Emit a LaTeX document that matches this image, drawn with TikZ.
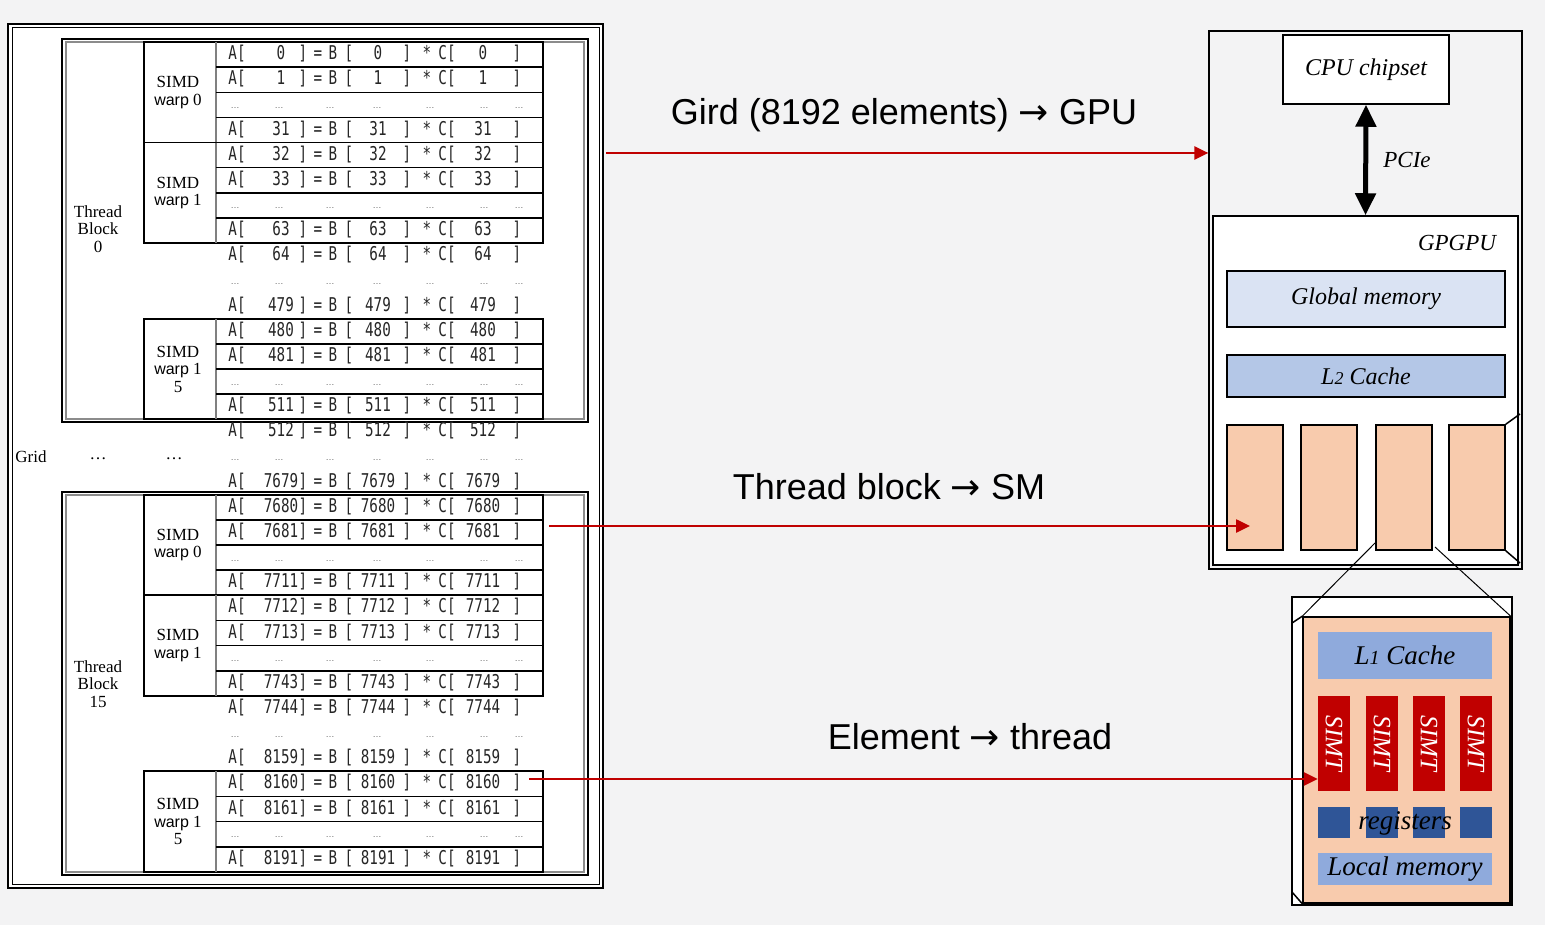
\documentclass[tikz,border=0pt]{standalone}
\usepackage{fontspec}
\usetikzlibrary{arrows.meta}
\newfontfamily\sansf{Liberation Sans}
\newfontfamily\timesf{Liberation Serif}
\newfontfamily\djv{DejaVu Sans}
\newfontfamily\monof[FakeStretch=0.75]{DejaVu Sans Mono}
\definecolor{bg}{HTML}{F3F3F4}
\definecolor{darkred}{HTML}{C00000}
\definecolor{gmem}{HTML}{DAE3F3}
\definecolor{ltwo}{HTML}{B4C7E7}
\definecolor{lone}{HTML}{8FAADC}
\definecolor{peach}{HTML}{F8CBAD}
\definecolor{regblue}{HTML}{2F5597}
\newcommand\rarr{{\djv →}}
\begin{document}
\begin{tikzpicture}[x=1pt,y=-1pt,
  rowtxt/.style={inner sep=0pt, text height=14pt, text depth=4pt, font=\monof\fontsize{19}{19}\selectfont, text=black!85},
  dotstxt/.style={inner sep=0pt, font=\sansf\fontsize{9}{9}\selectfont, text=black!60},
  lbl/.style={inner sep=0pt, align=center, font=\timesf\fontsize{17}{17.5}\selectfont},
  big/.style={inner sep=0pt, font=\sansf\fontsize{36}{40}\selectfont},
  itl/.style={inner sep=0pt, font=\timesf\fontsize{24}{28}\selectfont\itshape},
  boxed/.style={draw=black, line width=1.5pt, inner sep=0pt},
  redarrow/.style={draw=darkred, line width=2.5pt, -{Triangle[length=14pt,width=13pt]}},
  pcie/.style={draw=black, line width=5pt, {Triangle[length=22pt,width=20pt]}-{Triangle[length=22pt,width=20pt]}}
]
\useasboundingbox (0,0) rectangle (1545,925);
\fill[bg] (0,0) rectangle (1545,925);

% ---------------- left: grid table ----------------
\fill[white] (8,24) rectangle (603,888);
\draw[line width=2pt] (8,24) rectangle (603,888);
\draw[line width=1pt] (12,28) rectangle (599,884);

% thread block boxes
\draw[line width=1.5pt] (62,39) rectangle (588,422);
\draw[black!45, line width=1.5pt] (66,42) rectangle (584,419);
\draw[line width=1.5pt] (62,492) rectangle (588,875);
\draw[black!45, line width=1.5pt] (66,495) rectangle (584,872);

% warp boxes
\foreach \s/\e in {0/3,4/7,11/14,18/21,22/25,29/32}{
  \pgfmathsetmacro\wt{42+25.15*\s}
  \pgfmathsetmacro\wb{42+25.15*(\e+1)}
  \draw[line width=1.8pt] (144,\wt) rectangle (543,\wb);
  \draw[black!50, line width=1.2pt] (216,\wt) -- (216,\wb);
  \foreach \k in {1,2,3}{
    \pgfmathsetmacro\yy{\wt+25.15*\k}
    \draw[line width=1.5pt] (216,\yy) -- (543,\yy);
  }
}

% rows with numbers
\foreach \i/\n in {0/0,1/1,3/31,4/32,5/33,7/63,8/64,10/479,11/480,12/481,14/511,15/512,17/7679,18/7680,19/7681,21/7711,22/7712,23/7713,25/7743,26/7744,28/8159,29/8160,30/8161,32/8191}{
  \pgfmathsetmacro\ry{54.6+25.15*\i}
  \node[rowtxt] (ra\i) at (237,\ry) {A[};
  \node[rowtxt] (rn\i) at (281,\ry) {\n};
  \node[rowtxt] (rb\i) at (303,\ry) {]};
  \node[rowtxt] (rc\i) at (318,\ry) {=};
  \node[rowtxt] (rd\i) at (333,\ry) {B};
  \node[rowtxt] (re\i) at (349,\ry) {[};
  \node[rowtxt] (rf\i) at (378,\ry) {\n};
  \node[rowtxt] (rg\i) at (407,\ry) {]};
  \node[rowtxt] (rh\i) at (427,\ry) {*};
  \node[rowtxt] (rk\i) at (447,\ry) {C[};
  \node[rowtxt] (rm\i) at (483,\ry) {\n};
  \node[rowtxt] (rp\i) at (517,\ry) {]};
}
% rows with dots
\foreach \i in {2,6,9,13,16,20,24,27,31}{
  \pgfmathsetmacro\ry{57.6+25.15*\i}
  \foreach \xx [count=\c] in {235,279,330,377,430,484,519}{
    \node[dotstxt] (dt\i-\c) at (\xx,\ry) {…};
  }
}

% labels
\node[lbl] (tb0) at (98,229) {Thread\\Block\\0};
\node[lbl] (tb15) at (98,684) {Thread\\Block\\15};
\node[lbl] (wa) at (178,92.3) {SIMD\\{\sansf\fontsize{16}{17.5}\selectfont warp} 0};
\node[lbl] (wb) at (178,192.9) {SIMD\\{\sansf\fontsize{16}{17.5}\selectfont warp} 1};
\node[lbl] (wc) at (178,369) {SIMD\\{\sansf\fontsize{16}{17.5}\selectfont warp} 1\\5};
\node[lbl] (wd) at (178,545) {SIMD\\{\sansf\fontsize{16}{17.5}\selectfont warp} 0};
\node[lbl] (we) at (178,645.6) {SIMD\\{\sansf\fontsize{16}{17.5}\selectfont warp} 1};
\node[lbl] (wf) at (178,821.6) {SIMD\\{\sansf\fontsize{16}{17.5}\selectfont warp} 1\\5};
\node[lbl] (grid) at (31,457) {Grid};
\node[lbl] (gd1) at (98,459) {…};
\node[lbl] (gd2) at (174,459) {…};

% ---------------- right: system ----------------
\node[draw=black, line width=1.2pt, inner sep=0pt, minimum width=313pt, minimum height=538pt] (sys) at (1365.5,300) {};
\node[boxed, fill=white, minimum width=166pt, minimum height=69pt, itl] (cpu) at (1366,69.5) {CPU chipset};
\node[boxed, fill=white, minimum width=305pt, minimum height=349pt] (gpgpu) at (1365.5,390.5) {};
\draw[pcie] (cpu.south) -- (gpgpu.north);
\node[itl, font=\timesf\fontsize{23}{26}\selectfont\itshape] (pcielbl) at (1407,160) {PCIe};
\node[itl, font=\timesf\fontsize{23}{26}\selectfont\itshape] (gpgpulbl) at (1457,243) {GPGPU};
\node[boxed, fill=gmem, minimum width=278pt, minimum height=56pt, itl] (gmem) at (1366,299) {Global memory};
\node[boxed, fill=ltwo, minimum width=278pt, minimum height=42pt, itl] (l2) at (1366,376) {L{\fontsize{18}{18}\selectfont 2} Cache};
\foreach \xx [count=\c] in {1255,1329,1404,1477}{
  \node[boxed, fill=peach, minimum width=56pt, minimum height=125pt] (sm\c) at (\xx,487.5) {};
}
\coordinate (gtr) at (1520,414);
\coordinate (gbr) at (1520,563);
\draw[line width=1.5pt] (sm4.north east) -- (gtr);
\draw[line width=1.5pt] (sm4.south east) -- (gbr);

% SM detail
\node[draw=black, line width=1.5pt, inner sep=0pt, fill=white, minimum width=220pt, minimum height=308pt] (smback) at (1402,751) {};
\node[boxed, fill=peach, minimum width=207pt, minimum height=286pt] (smfront) at (1406.5,760) {};
\coordinate (zl) at (1375,543);
\coordinate (zr) at (1435,547);
\draw[line width=1pt] (zl) -- (smfront.north west);
\draw[line width=1pt] (zr) -- (smfront.north east);
\coordinate (bl1) at (1292,623);
\coordinate (bl2) at (1292,892);
\draw[line width=1.5pt] (bl1) -- (smfront.north west);
\draw[line width=1.5pt] (bl2) -- (smfront.south west);

\node[fill=lone, inner sep=0pt, minimum width=174pt, minimum height=47pt, font=\timesf\fontsize{27}{30}\selectfont\itshape] (l1) at (1405,655.5) {L{\fontsize{20}{20}\selectfont 1} Cache};
\foreach \xx [count=\c] in {1334,1382,1429,1476}{
  \node[fill=darkred, inner sep=0pt, minimum width=32pt, minimum height=95pt] (simt\c) at (\xx,743.5) {};
  \node[rotate=-90, text=white, inner sep=0pt, font=\timesf\fontsize{25}{28}\selectfont\itshape] (simtl\c) at (\xx,743.5) {SIMT};
  \node[fill=regblue, inner sep=0pt, minimum width=32pt, minimum height=31pt] (reg\c) at (\xx,822.5) {};
}
\node[inner sep=0pt, font=\timesf\fontsize{27}{30}\selectfont\itshape] (regl) at (1405,823) {registers};
\node[fill=lone, inner sep=0pt, minimum width=174pt, minimum height=32pt, font=\timesf\fontsize{27}{30}\selectfont\itshape] (lmem) at (1405,869) {Local memory};

% ---------------- arrows and captions ----------------
\coordinate (s1) at (606,153);
\draw[redarrow] (s1) -- (s1 -| sys.west);
\coordinate (s2) at (549,526);
\coordinate (e2) at (1250,526);
\draw[redarrow] (s2) -- (e2);
\coordinate (s3) at (529,779);
\draw[redarrow] (s3) -- (s3 -| simt1.west);

\node[big] (cap1) at (904,115) {Gird (8192 elements) \rarr{} GPU};
\node[big] (cap2) at (889,487) {Thread block \rarr{} SM};
\node[big] (cap3) at (970,737) {Element \rarr{} thread};
\end{tikzpicture}
\end{document}
